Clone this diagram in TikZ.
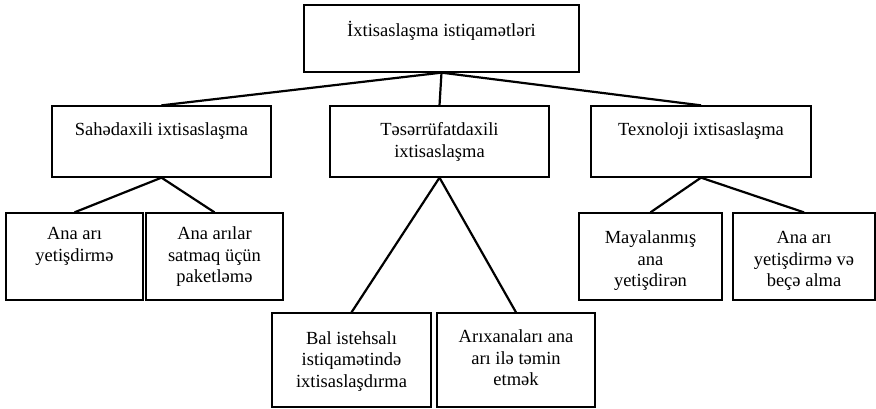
\documentclass[tikz,border=0pt]{standalone}
\usepackage{fontspec}
\setmainfont{Liberation Serif}
\newcommand{\bxt}[4]{\parbox[c][#2][t]{#1}{\centering\vspace*{#3}\strut #4\par}}
\begin{document}
\begin{tikzpicture}[x=1pt,y=-1pt,
  box/.style={draw, line width=1.3pt, inner sep=0pt, font=\fontsize{18.5}{21.3}\selectfont},
  link/.style={line width=2.2pt}]
\useasboundingbox (0,0) rectangle (876,408);
\node[box] (top) at (441.5,38.5) {\bxt{275pt}{67pt}{16pt}{İxtisaslaşma istiqamətləri}};
\node[box] (sah) at (161.5,141.5) {\bxt{219pt}{71pt}{15pt}{Sahədaxili ixtisaslaşma}};
\node[box] (tes) at (439.5,141.5) {\bxt{219pt}{71pt}{15pt}{Təsərrüfatdaxili\\ixtisaslaşma}};
\node[box] (tex) at (701,141.5) {\bxt{220pt}{71pt}{15pt}{Texnoloji ixtisaslaşma}};
\node[box] (a1) at (74.5,256.5) {\bxt{137pt}{87pt}{12pt}{Ana arı\\yetişdirmə}};
\node[box] (a2) at (214.5,256.5) {\bxt{137pt}{87pt}{12pt}{Ana arılar\\satmaq üçün\\paketləmə}};
\node[box] (b1) at (351.5,360) {\bxt{159pt}{94pt}{16.5pt}{Bal istehsalı\\istiqamətində\\ixtisaslaşdırma}};
\node[box] (b2) at (516,360) {\bxt{158pt}{94pt}{15pt}{Arıxanaları ana\\arı ilə təmin\\etmək}};
\node[box] (c1) at (650.5,256.5) {\bxt{143pt}{87pt}{16pt}{Mayalanmış\\ana\\yetişdirən}};
\node[box] (c2) at (804,256.5) {\bxt{142pt}{87pt}{16pt}{Ana arı\\yetişdirmə və\\beçə alma}};
\draw[link] (top.south) -- (sah.north);
\draw[link] (top.south) -- (tes.north);
\draw[link] (top.south) -- (tex.north);
\draw[link] (sah.south) -- (a1.north);
\draw[link] (sah.south) -- (a2.north);
\draw[link] (tes.south) -- (b1.north);
\draw[link] (tes.south) -- (b2.north);
\draw[link] (tex.south) -- (c1.north);
\draw[link] (tex.south) -- (c2.north);
\end{tikzpicture}
\end{document}
